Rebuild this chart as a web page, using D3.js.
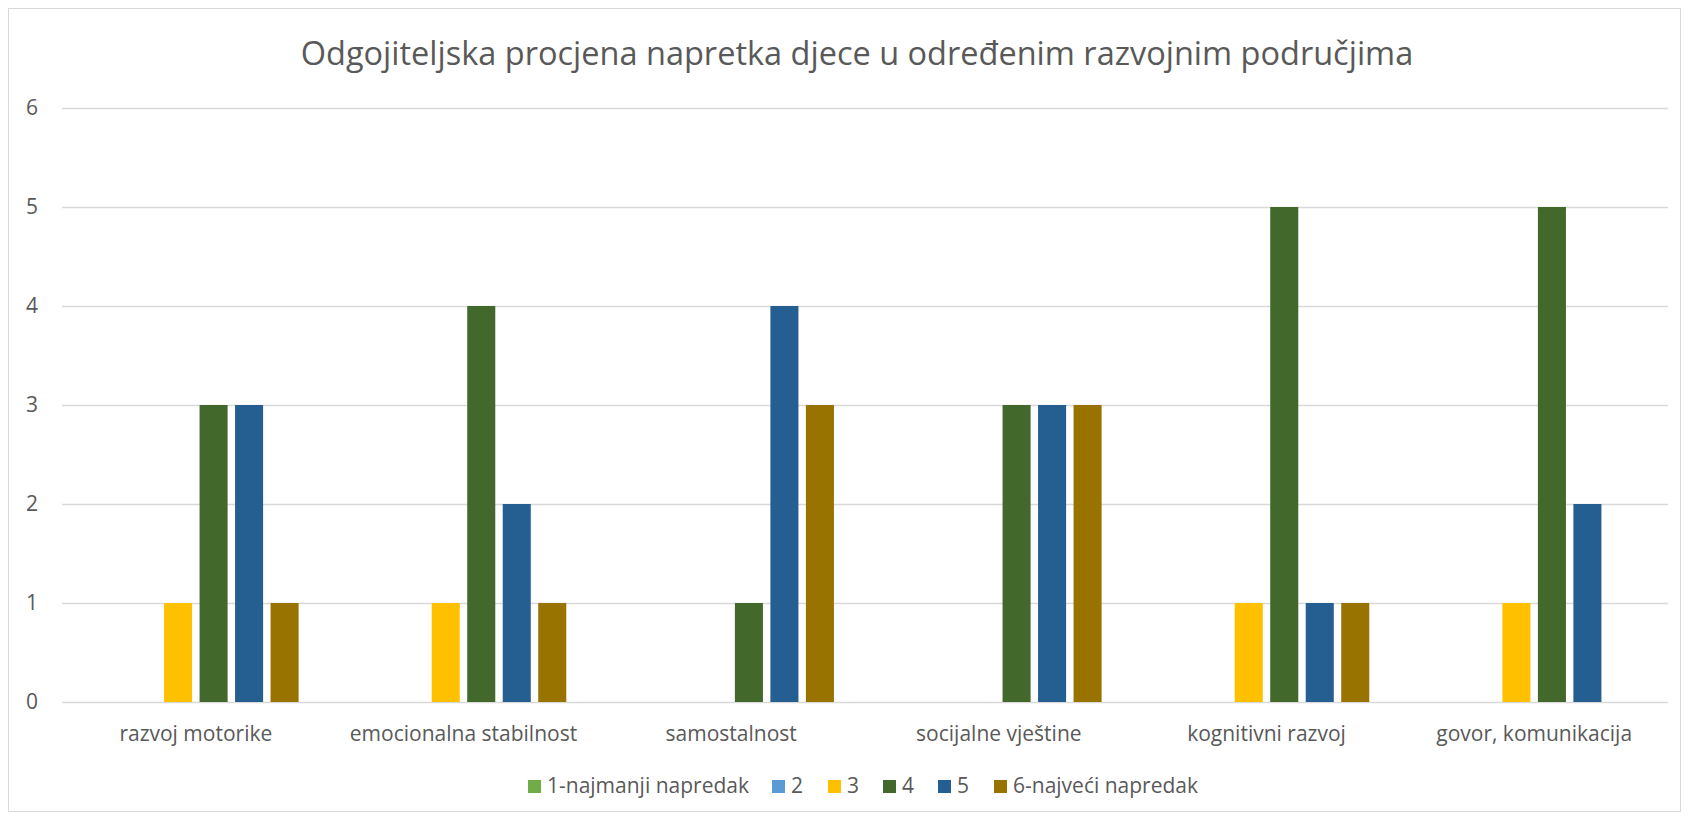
<meta charset='utf-8'>
<script src="https://d3js.org/d3.v7.min.js"></script>
<body style="margin:0;background:white"></body>
<script>

// DATA
var categories = ['razvoj motorike', 'emocionalna stabilnost', 'samostalnost',
    'socijalne vještine', 'kognitivni razvoj', 'govor, komunikacija'];
var seriesNames = ['1-najmanji napredak', '2', '3', '4', '5', '6-najveći napredak'];
var s1 = [0, 0, 0, 0, 0, 0];
var s2 = [0, 0, 0, 0, 0, 0];
var s3 = [1, 1, 0, 0, 1, 1];
var s4 = [3, 4, 1, 3, 5, 5];
var s5 = [3, 2, 4, 3, 1, 2];
var s6 = [1, 1, 3, 3, 1, 0];
var seriesValues = [s1, s2, s3, s4, s5, s6];
var yTicks = [0, 1, 2, 3, 4, 5, 6];
var colors = ['#70ad47', '#5b9bd5', '#ffc000', '#43682b', '#255e91', '#997300'];
var title = 'Odgojiteljska procjena napretka djece u određenim razvojnim područjima';

// INITIAL SETTINGS
var ww = 1689;
var wh = 820;
var font = 'Open Sans';
var txtcol = '#595959';
var grid = '#d9d9d9';
var lblsize = 21;
var plot = {left: 62, right: 1668, top: 108, bottom: 702};

var container = d3.select('body').append('svg')
    .attr('width', ww)
    .attr('height', wh)
    .style('display', 'block');

// chart frame
container.append('rect')
    .attr('x', 8.5)
    .attr('y', 8.5)
    .attr('width', 1672)
    .attr('height', 803)
    .attr('fill', 'white')
    .attr('stroke', grid);

// TITLE
container.append('text')
    .attr('x', 857)
    .attr('y', 65)
    .attr('text-anchor', 'middle')
    .attr('font-family', font)
    .attr('font-size', 32.5)
    .attr('fill', txtcol)
    .text(title);

// SCALES
var y = d3.scaleLinear()
    .domain([0, 6])
    .range([plot.bottom, plot.top]);
var x0 = d3.scaleBand()
    .domain(categories)
    .range([plot.left, plot.right]);
var x1 = d3.scaleBand()
    .domain(seriesNames)
    .range([0, x0.bandwidth()])
    .paddingInner(0.21)
    .paddingOuter(0.875);

// GRIDLINES + Y LABELS
var yAxis = d3.axisLeft(y)
    .tickValues(yTicks)
    .tickSize(-(plot.right - plot.left))
    .tickPadding(24)
    .tickFormat(d3.format('d'));
var yg = container.append('g')
    .attr('transform', 'translate(' + plot.left + ',0)')
    .call(yAxis);
yg.select('.domain').remove();
yg.selectAll('.tick line')
    .attr('stroke', grid)
    .attr('stroke-width', 1.3);
yg.selectAll('.tick text')
    .attr('font-family', font)
    .attr('font-size', lblsize)
    .attr('fill', txtcol);

// X LABELS
var xAxis = d3.axisBottom(x0)
    .tickSize(0)
    .tickPadding(24);
var xg = container.append('g')
    .attr('transform', 'translate(0,' + plot.bottom + ')')
    .call(xAxis);
xg.select('.domain').remove();
xg.selectAll('.tick text')
    .attr('font-family', font)
    .attr('font-size', lblsize)
    .attr('fill', txtcol);

// BARS
var rows = [];
for (var i = 0; i < seriesNames.length; i++) {
    for (var j = 0; j < categories.length; j++) {
        rows.push({s: seriesNames[i], si: i, c: categories[j], v: seriesValues[i][j]});
    }
}
container.append('g').selectAll('rect')
    .data(rows.filter(function (d) { return d.v > 0; }))
    .enter().append('rect')
    .attr('x', function (d) { return x0(d.c) + x1(d.s); })
    .attr('y', function (d) { return y(d.v); })
    .attr('width', x1.bandwidth())
    .attr('height', function (d) { return y(0) - y(d.v); })
    .attr('fill', function (d) { return colors[d.si]; });

// LEGEND
var legX = [528, 772, 828, 883, 938, 994];
var legend = container.append('g');
var items = legend.selectAll('g')
    .data(seriesNames)
    .enter().append('g')
    .attr('transform', function (d, i) { return 'translate(' + legX[i] + ',780)'; });
items.append('rect')
    .attr('width', 13)
    .attr('height', 13)
    .attr('fill', function (d, i) { return colors[i]; });
items.append('text')
    .attr('x', 19)
    .attr('y', 13)
    .attr('font-family', font)
    .attr('font-size', lblsize)
    .attr('fill', txtcol)
    .text(function (d) { return d; });

</script>
